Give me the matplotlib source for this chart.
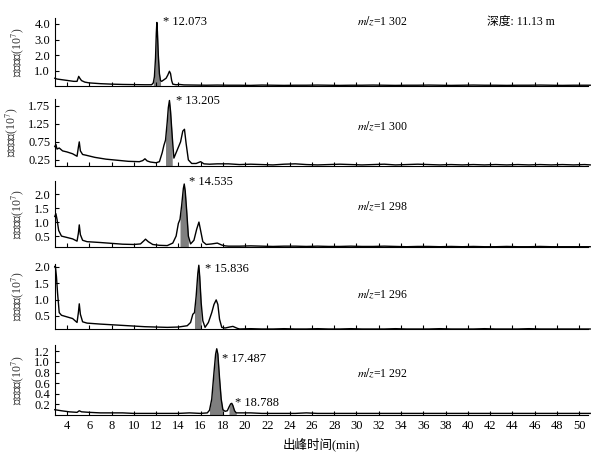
import numpy as np
import matplotlib.pyplot as plt

plt.rcParams['font.family'] = ['Liberation Serif', 'Noto Sans CJK SC']
plt.rcParams['mathtext.fontset'] = 'stix'

# Chromatogram points (time in min, intensity in 10^7)
tail_t = [14.5, 15.5, 16.5, 17.5, 18.5, 19.5, 20.5, 21.5, 22.5, 23.5, 24.5, 25.5, 26.5,
          27.5, 28.5, 29.5, 30.5, 31.5, 32.5, 33.5, 34.5, 35.5, 36.5, 37.5, 38.5, 39.5,
          40.5, 41.5, 42.5, 43.5, 44.5, 45.5, 46.5, 47.5, 48.5, 49.5, 50.5, 51.0]

t1 = [2.9, 3.1, 3.4, 3.8, 4.2, 4.6, 4.9, 5.05, 5.15, 5.3, 5.6, 6.0, 7.0, 8.0, 9.0, 10.0,
      11.0, 11.6, 11.75, 11.85, 11.95, 12.02, 12.07, 12.12, 12.2, 12.3, 12.4, 12.5, 12.7,
      12.9, 13.05, 13.2, 13.3, 13.4, 13.5, 13.8, 14.1]
i1 = [0.5, 0.45, 0.42, 0.38, 0.34, 0.3, 0.3, 0.62, 0.5, 0.35, 0.25, 0.2, 0.15, 0.12, 0.1, 0.09,
      0.08, 0.08, 0.2, 0.6, 1.8, 3.4, 4.1, 3.5, 2.0, 0.8, 0.35, 0.3, 0.4,
      0.5, 0.7, 0.95, 0.8, 0.35, 0.12, 0.08, 0.1]
tail1 = [0.07, 0.06, 0.05, 0.06, 0.05, 0.05, 0.04, 0.06, 0.05, 0.04, 0.05, 0.05, 0.06,
         0.05, 0.04, 0.05, 0.05, 0.06, 0.05, 0.04, 0.05, 0.05, 0.06, 0.05, 0.04, 0.05,
         0.06, 0.05, 0.05, 0.04, 0.05, 0.05, 0.06, 0.05, 0.04, 0.05, 0.05, 0.05]

t2 = [2.9, 3.0, 3.1, 3.3, 3.6, 4.0, 4.5, 4.9, 5.02, 5.1, 5.2, 5.4, 5.7, 6.5, 7.5, 8.5, 9.5,
      10.5, 10.8, 11.0, 11.2, 11.5, 12.0, 12.3, 12.55, 12.7, 12.85, 13.0, 13.1, 13.2, 13.3,
      13.45, 13.6, 13.8, 14.0, 14.2, 14.4, 14.55, 14.7, 14.9, 15.2, 15.6, 16.0, 16.3, 16.8, 17.5]
i2 = [0.62, 0.68, 0.55, 0.58, 0.5, 0.47, 0.42, 0.35, 0.6, 0.75, 0.5, 0.4, 0.38, 0.32, 0.27, 0.24, 0.21,
      0.2, 0.23, 0.28, 0.22, 0.19, 0.17, 0.2, 0.45, 0.65, 0.8, 1.3, 1.7, 1.9, 1.6,
      0.9, 0.3, 0.45, 0.6, 0.75, 1.05, 1.1, 0.7, 0.25, 0.15, 0.15, 0.2, 0.14, 0.13, 0.14]
tail2 = [0.13, 0.12, 0.13, 0.12, 0.14, 0.12, 0.13, 0.12, 0.11, 0.13, 0.14, 0.12, 0.11,
         0.12, 0.13, 0.12, 0.11, 0.12, 0.13, 0.11, 0.12, 0.13, 0.12, 0.11, 0.12, 0.11,
         0.12, 0.11, 0.12, 0.11, 0.12, 0.11, 0.12, 0.11, 0.12, 0.11, 0.12, 0.11]

t3 = [2.9, 3.0, 3.1, 3.25, 3.5, 4.0, 4.5, 4.9, 5.02, 5.1, 5.2, 5.4, 5.8, 7.0, 8.0, 9.0, 10.0,
      10.6, 10.9, 11.05, 11.3, 11.7, 12.3, 13.0, 13.5, 13.8, 14.0, 14.15, 14.3, 14.45, 14.53,
      14.62, 14.75, 14.9, 15.1, 15.4, 15.65, 15.85, 16.0, 16.2, 16.5, 17.0, 17.5, 17.9, 18.2]
i3 = [1.2, 1.3, 1.1, 0.7, 0.5, 0.45, 0.4, 0.32, 0.6, 0.9, 0.55, 0.35, 0.3, 0.27, 0.24, 0.21, 0.2,
      0.22, 0.33, 0.39, 0.3, 0.2, 0.17, 0.16, 0.25, 0.5, 0.95, 1.1, 1.6, 2.2, 2.36,
      2.1, 1.4, 0.5, 0.22, 0.35, 0.75, 1.0, 0.7, 0.3, 0.2, 0.22, 0.25, 0.18, 0.15]
tail3 = [0.15, 0.15, 0.14, 0.15, 0.14, 0.14, 0.15, 0.14, 0.13, 0.14, 0.14, 0.13, 0.14,
         0.13, 0.13, 0.14, 0.13, 0.13, 0.14, 0.13, 0.12, 0.13, 0.13, 0.12, 0.13, 0.12,
         0.13, 0.12, 0.12, 0.13, 0.12, 0.12, 0.13, 0.12, 0.12, 0.12, 0.12, 0.12]

t4 = [2.9, 2.95, 3.05, 3.15, 3.3, 3.5, 4.0, 4.5, 4.9, 5.02, 5.1, 5.2, 5.4, 5.8, 7.0, 8.0,
      9.0, 10.0, 11.0, 12.0, 13.0, 14.0, 14.8, 15.1, 15.3, 15.45, 15.6, 15.75, 15.84,
      15.92, 16.05, 16.2, 16.4, 16.7, 17.0, 17.2, 17.4, 17.55, 17.7, 17.9, 18.2, 18.6, 18.9, 19.3]
i4 = [2.0, 2.03, 1.7, 1.2, 0.6, 0.52, 0.47, 0.42, 0.3, 0.6, 0.87, 0.55, 0.32, 0.28, 0.25, 0.23,
      0.21, 0.19, 0.17, 0.16, 0.15, 0.16, 0.2, 0.3, 0.55, 0.6, 1.1, 1.8, 2.05,
      1.7, 0.9, 0.35, 0.15, 0.3, 0.6, 0.85, 0.99, 0.85, 0.4, 0.15, 0.13, 0.16, 0.18, 0.12]
tail4 = [0.11, 0.11, 0.1, 0.11, 0.1, 0.1, 0.11, 0.1, 0.1, 0.11, 0.1, 0.1, 0.11,
         0.1, 0.1, 0.11, 0.1, 0.1, 0.1, 0.11, 0.1, 0.1, 0.1, 0.11, 0.1, 0.1,
         0.1, 0.11, 0.1, 0.1, 0.1, 0.11, 0.1, 0.1, 0.1, 0.1, 0.1, 0.1]

t5 = [2.9, 3.5, 4.2, 4.9, 5.1, 5.3, 6.0, 7.0, 8.0, 9.0, 10.0, 12.0, 14.0, 15.0, 16.0, 16.6,
      16.8, 17.0, 17.2, 17.35, 17.45, 17.55, 17.7, 17.85, 18.0, 18.2, 18.4, 18.55, 18.7,
      18.8, 18.9, 19.05, 19.2, 19.5, 20.5]
i5 = [0.1, 0.08, 0.06, 0.05, 0.08, 0.06, 0.05, 0.04, 0.04, 0.04, 0.03, 0.03, 0.03, 0.04, 0.03, 0.04,
      0.09, 0.3, 0.8, 1.15, 1.25, 1.15, 0.7, 0.3, 0.1, 0.07, 0.08, 0.15, 0.21,
      0.22, 0.18, 0.08, 0.04, 0.04, 0.04]
tail5 = [0.03, 0.03, 0.04, 0.03, 0.03, 0.03, 0.04, 0.03, 0.03, 0.03, 0.03, 0.04, 0.03,
         0.03, 0.03, 0.03, 0.03, 0.03, 0.03, 0.03, 0.03, 0.03, 0.03, 0.03, 0.03, 0.03,
         0.03, 0.03, 0.03, 0.03, 0.03, 0.03, 0.03, 0.03, 0.03, 0.03, 0.03, 0.03]

times = [t1, t2, t3, t4, t5]
intens = [i1, i2, i3, i4, i5]
tails = [tail1, tail2, tail3, tail4, tail5]

mz_labels = ['1 302', '1 300', '1 298', '1 296', '1 292']
peak_labels = [['12.073'], ['13.205'], ['14.535'], ['15.836'], ['17.487', '18.788']]
peak_label_pos = [[(12.6, 4.15)], [(13.75, 1.88)], [(15.0, 2.43)], [(16.35, 1.93)],
                  [(17.9, 1.05), (19.05, 0.23)]]
shade_windows = [[(11.72, 12.42)], [(12.82, 13.58)], [(14.05, 14.9)], [(15.42, 16.15)],
                 [(16.75, 18.05), (18.42, 19.2)]]
mz_y = [4.13, 1.17, 1.54, 1.14, 0.77]
y_ticks = [[1.0, 2.0, 3.0, 4.0], [0.25, 0.75, 1.25, 1.75], [0.5, 1.0, 1.5, 2.0],
           [0.5, 1.0, 1.5, 2.0], [0.2, 0.4, 0.6, 0.8, 1.0, 1.2]]
y_fmt = ['%.1f', '%.2f', '%.1f', '%.1f', '%.1f']
y_lims = [(0, 4.4), (0.08, 1.95), (0.11, 2.45), (0.1, 2.1), (0, 1.32)]
# axes placement in pixels: bottom edge and pixels per unit
bottoms_px = [86, 166, 247, 329, 415]
px_per_unit = [15.5, 36, 28, 32.7, 53]

W, H = 601, 457
fig = plt.figure(figsize=(W / 100, H / 100), dpi=100)

for k in range(5):
    h_px = (y_lims[k][1] - y_lims[k][0]) * px_per_unit[k]
    ax = fig.add_axes([55 / W, 1 - bottoms_px[k] / H, 533 / W, h_px / H])
    # baseline tail only after the last listed peak point
    tt = np.array(tail_t)
    ty = np.array(tails[k])
    keep = tt > max(times[k])
    t = np.concatenate([times[k], tt[keep]])
    y = np.concatenate([intens[k], ty[keep]])
    ax.plot(t, y, color='black', lw=1.0, clip_on=False)
    for (a, b) in shade_windows[k]:
        m = (t >= a) & (t <= b)
        ax.fill_between(t[m], y_lims[k][0], y[m], color='#7f7f7f', lw=0, clip_on=False)
    for lab, (px, py) in zip(peak_labels[k], peak_label_pos[k]):
        ax.text(px, py, '* ' + lab, fontsize=9, va='center', ha='left')
    ax.text(32.3, mz_y[k], r'$m/z$=' + mz_labels[k], fontsize=8.5, ha='center', va='center')
    if k == 0:
        ax.text(44.8, mz_y[k], '深度: 11.13 m', fontsize=8.5, ha='center', va='center')

    ax.set_xlim(2.92, 50.8)
    ax.set_ylim(*y_lims[k])
    ax.set_xticks(range(4, 51, 2))
    ax.set_yticks(y_ticks[k])
    ax.set_yticklabels([y_fmt[k] % v for v in y_ticks[k]])
    for s in ['top', 'right']:
        ax.spines[s].set_visible(False)
    ax.tick_params(direction='in', length=3, width=0.8, labelsize=9)
    if k < 4:
        ax.tick_params(axis='x', labelbottom=False)
    ax.set_ylabel('离子强度(10$^7$)', fontsize=8.5, labelpad=6, color='#333333')

ax.set_xlabel('出峰时间(min)', fontsize=9)

fig.savefig('out.png', dpi=100)
